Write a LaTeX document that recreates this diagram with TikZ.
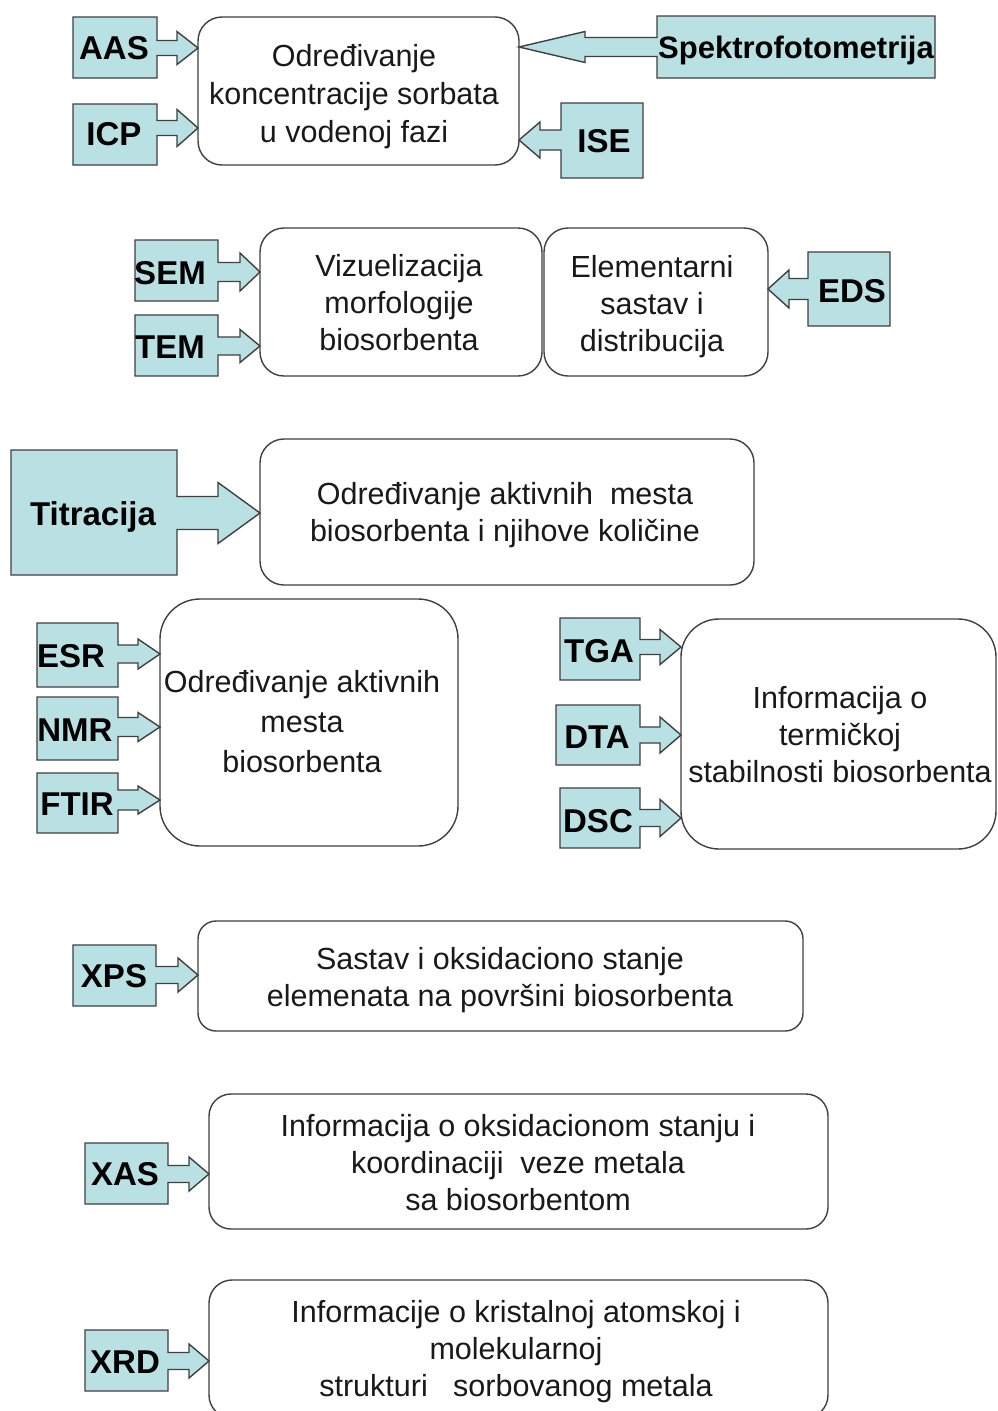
\documentclass[tikz,border=0pt]{standalone}
\usepackage{fontspec}
\setmainfont{Liberation Sans}
\definecolor{callfill}{HTML}{B9E0E3}
\definecolor{edgecol}{HTML}{404040}
\tikzset{
  infobox/.style={draw=edgecol, line width=1.4pt, fill=white, rectangle, inner sep=0pt},
  calloutshape/.style={draw=edgecol, line width=1.4pt, fill=callfill, line join=miter},
  lab/.style={font=\fontsize{33}{38}\selectfont\bfseries, inner sep=0pt, anchor=base},
  txt/.style={font=\fontsize{30.5}{37}\selectfont, align=center, inner sep=0pt, text=black!90},
}
% L T R B Y xb X s h
\newcommand\mycallout[9]{%
  \draw[calloutshape] (#1,#2) -- (#3,#2) -- (#3,{#5-#8}) -- (#6,{#5-#8}) -- (#6,{#5-#9})
    -- (#7,#5) -- (#6,{#5+#9}) -- (#6,{#5+#8}) -- (#3,{#5+#8}) -- (#3,#4) -- (#1,#4) -- cycle;}
\begin{document}
\begin{tikzpicture}[x=1pt,y=-1pt]
\useasboundingbox (0,0) rectangle (997,1411);
\clip (0,0) rectangle (997,1411);
\fill[white] (0,0) rectangle (997,1411);

% info boxes
\node[infobox, rounded corners=24pt, minimum width=321pt, minimum height=148pt] (b1) at (358.5,91) {};
\node[infobox, rounded corners=24pt, minimum width=282pt, minimum height=148pt] (b2) at (401,302) {};
\node[infobox, rounded corners=24pt, minimum width=224pt, minimum height=148pt] (b3) at (656,302) {};
\node[infobox, rounded corners=24pt, minimum width=494pt, minimum height=146pt] (b4) at (507,512) {};
\node[infobox, rounded corners=40pt, minimum width=298pt, minimum height=247pt] (b5) at (309,722.5) {};
\node[infobox, rounded corners=38pt, minimum width=315pt, minimum height=230pt] (b6) at (838.5,734) {};
\node[infobox, rounded corners=18pt, minimum width=605pt, minimum height=110pt] (b7) at (500.5,976) {};
\node[infobox, rounded corners=22pt, minimum width=619pt, minimum height=135pt] (b8) at (518.5,1161.5) {};
\node[infobox, rounded corners=23pt, minimum width=619pt, minimum height=138pt] (b9) at (518.5,1349) {};

% texts
\node[txt, font=\fontsize{30.5}{38}\selectfont] (t1) at (354,97) {Određivanje\\koncentracije sorbata\\u vodenoj fazi};
\node[txt] (t2) at (399,303) {Vizuelizacija\\morfologije\\biosorbenta};
\node[txt] (t3) at (652,307) {Elementarni\\sastav i\\distribucija};
\node[txt] (t4) at (505,515) {Određivanje aktivnih\ \ mesta\\biosorbenta i njihove količine};
\node[txt, font=\fontsize{30.5}{40}\selectfont] (t5) at (302,722) {Određivanje aktivnih\\mesta\\biosorbenta};
\node[txt] (t6) at (840,735) {Informacija o\\termičkoj\\stabilnosti biosorbenta};
\node[txt] (t7) at (500,980) {Sastav i oksidaciono stanje\\elemenata na površini biosorbenta};
\node[txt] (t8) at (518,1163) {Informacija o oksidacionom stanju i\\koordinaciji\ \ veze metala\\sa biosorbentom};
\node[txt] (t9) at (516,1352) {Informacije o kristalnoj atomskoj i\\molekularnoj\\strukturi\ \ \ sorbovanog metala};

% callouts
\mycallout{73}{17}{157}{78}{48}{177}{198}{7.5}{16.5}
\mycallout{73}{104}{157}{165}{128}{177}{198}{7.5}{18.5}
\mycallout{935}{16}{657}{78}{47}{585}{519}{9.5}{15.5}
\mycallout{643}{103}{561}{178}{140}{540}{519}{10}{18}
\mycallout{135}{240}{218}{301}{272}{240}{260}{9.5}{19}
\mycallout{135}{315}{218}{376}{346}{240}{260}{9}{16.5}
\mycallout{890}{252}{808}{326}{289}{789}{768}{10.5}{19}
\mycallout{11}{450}{177}{575}{513}{218}{260}{16.5}{30.5}
\mycallout{37}{623}{118}{687}{654}{138}{160}{9}{15}
\mycallout{37}{697}{118}{760}{727}{138}{160}{9.5}{14.5}
\mycallout{37}{773}{118}{833}{800}{138}{160}{10}{14}
\mycallout{560}{618}{640}{680}{647}{660}{681}{7.5}{17.5}
\mycallout{556}{705}{640}{765}{735}{660}{681}{8}{18}
\mycallout{560}{788}{640}{848}{818}{660}{681}{8.5}{18.5}
\mycallout{73}{945}{156}{1006}{975}{178}{198}{8.5}{17}
\mycallout{85}{1143}{168}{1204}{1174}{189}{209}{8.5}{17}
\mycallout{85}{1330}{168}{1391}{1361}{189}{209}{8.5}{17}

% labels
\node[lab] (aas) at (114,59) {AAS};
\node[lab] (icp) at (114,145) {ICP};
\node[lab, font=\fontsize{31}{36}\selectfont\bfseries] (spek) at (796,58) {Spektrofotometrija};
\node[lab] (ise) at (604,152) {ISE};
\node[lab] (sem) at (170,284) {SEM};
\node[lab] (tem) at (170,358) {TEM};
\node[lab] (eds) at (852,302) {EDS};
\node[lab] (tit) at (93,525) {Titracija};
\node[lab] (esr) at (71,667) {ESR};
\node[lab] (nmr) at (75,741) {NMR};
\node[lab] (ftir) at (77,815) {FTIR};
\node[lab] (tga) at (599,662) {TGA};
\node[lab] (dta) at (597,748) {DTA};
\node[lab] (dsc) at (598,832) {DSC};
\node[lab] (xps) at (114,987) {XPS};
\node[lab] (xas) at (125,1185) {XAS};
\node[lab] (xrd) at (125,1373) {XRD};
\end{tikzpicture}
\end{document}
